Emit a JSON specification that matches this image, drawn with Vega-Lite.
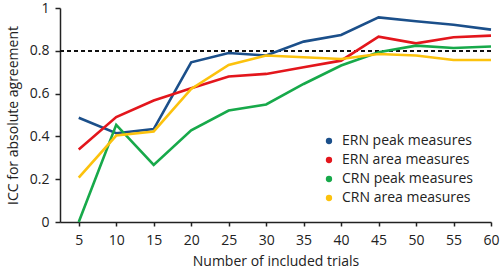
{
  "$schema": "https://vega.github.io/schema/vega-lite/v6.json",
  "width": 431,
  "height": 214,
  "autosize": {"type": "none"},
  "padding": {"left": 60, "top": 8, "right": 9, "bottom": 49},
  "background": "white",
  "config": {
    "view": {"stroke": null},
    "font": "Open Sans",
    "axis": {"grid": false, "domainColor": "#222", "tickColor": "#222", "labelColor": "#222", "titleColor": "#222", "labelFontSize": 14, "titleFontSize": 14, "titleFontWeight": "normal", "domainWidth": 1.5, "tickWidth": 1.5}
  },
  "data": {
    "values": [
      {"n": 5, "s": "ERN peak measures", "v": 0.487},
      {"n": 10, "s": "ERN peak measures", "v": 0.415},
      {"n": 15, "s": "ERN peak measures", "v": 0.434},
      {"n": 20, "s": "ERN peak measures", "v": 0.746},
      {"n": 25, "s": "ERN peak measures", "v": 0.79},
      {"n": 30, "s": "ERN peak measures", "v": 0.778},
      {"n": 35, "s": "ERN peak measures", "v": 0.843},
      {"n": 40, "s": "ERN peak measures", "v": 0.874},
      {"n": 45, "s": "ERN peak measures", "v": 0.956},
      {"n": 50, "s": "ERN peak measures", "v": 0.938},
      {"n": 55, "s": "ERN peak measures", "v": 0.922},
      {"n": 60, "s": "ERN peak measures", "v": 0.899},
      {"n": 5, "s": "ERN area measures", "v": 0.339},
      {"n": 10, "s": "ERN area measures", "v": 0.49},
      {"n": 15, "s": "ERN area measures", "v": 0.568},
      {"n": 20, "s": "ERN area measures", "v": 0.625},
      {"n": 25, "s": "ERN area measures", "v": 0.68},
      {"n": 30, "s": "ERN area measures", "v": 0.692},
      {"n": 35, "s": "ERN area measures", "v": 0.723},
      {"n": 40, "s": "ERN area measures", "v": 0.754},
      {"n": 45, "s": "ERN area measures", "v": 0.866},
      {"n": 50, "s": "ERN area measures", "v": 0.835},
      {"n": 55, "s": "ERN area measures", "v": 0.863},
      {"n": 60, "s": "ERN area measures", "v": 0.871},
      {"n": 5, "s": "CRN peak measures", "v": 0.0},
      {"n": 10, "s": "CRN peak measures", "v": 0.454},
      {"n": 15, "s": "CRN peak measures", "v": 0.267},
      {"n": 20, "s": "CRN peak measures", "v": 0.428},
      {"n": 25, "s": "CRN peak measures", "v": 0.521},
      {"n": 30, "s": "CRN peak measures", "v": 0.549},
      {"n": 35, "s": "CRN peak measures", "v": 0.645},
      {"n": 40, "s": "CRN peak measures", "v": 0.731},
      {"n": 45, "s": "CRN peak measures", "v": 0.793},
      {"n": 50, "s": "CRN peak measures", "v": 0.824},
      {"n": 55, "s": "CRN peak measures", "v": 0.813},
      {"n": 60, "s": "CRN peak measures", "v": 0.82},
      {"n": 5, "s": "CRN area measures", "v": 0.207},
      {"n": 10, "s": "CRN area measures", "v": 0.404},
      {"n": 15, "s": "CRN area measures", "v": 0.423},
      {"n": 20, "s": "CRN area measures", "v": 0.622},
      {"n": 25, "s": "CRN area measures", "v": 0.734},
      {"n": 30, "s": "CRN area measures", "v": 0.778},
      {"n": 35, "s": "CRN area measures", "v": 0.77},
      {"n": 40, "s": "CRN area measures", "v": 0.762},
      {"n": 45, "s": "CRN area measures", "v": 0.785},
      {"n": 50, "s": "CRN area measures", "v": 0.778},
      {"n": 55, "s": "CRN area measures", "v": 0.757},
      {"n": 60, "s": "CRN area measures", "v": 0.757}
    ]
  },
  "layer": [
    {
      "mark": {"type": "rule", "strokeDash": [4, 3], "strokeWidth": 1.2, "color": "#111"},
      "encoding": {"y": {"datum": 0.8, "type": "quantitative"}}
    },
    {
      "mark": {"type": "line", "strokeWidth": 2.6},
      "encoding": {
        "x": {
          "field": "n", "type": "quantitative",
          "scale": {"domain": [2.5, 60], "nice": false, "zero": false},
          "axis": {"values": [5, 10, 15, 20, 25, 30, 35, 40, 45, 50, 55, 60], "tickSize": 4, "labelPadding": 7, "title": "Number of included trials", "titlePadding": 7, "labelFlush": false}
        },
        "y": {
          "field": "v", "type": "quantitative",
          "scale": {"domain": [0, 1], "nice": false},
          "axis": {"values": [0, 0.2, 0.4, 0.6, 0.8, 1], "format": "~g", "tickSize": 5, "labelPadding": 6, "title": "ICC for absolute agreement", "titlePadding": 9, "labelFlush": false}
        },
        "color": {
          "field": "s", "type": "nominal",
          "sort": ["ERN peak measures", "ERN area measures", "CRN peak measures", "CRN area measures"],
          "scale": {"domain": ["ERN peak measures", "ERN area measures", "CRN peak measures", "CRN area measures"], "range": ["#1b4f8a", "#e3161c", "#17a94a", "#fcc20d"]},
          "legend": {
            "title": null, "orient": "none", "legendX": 262, "legendY": 126,
            "symbolType": "circle", "symbolSize": 40,
            "labelFontSize": 14, "labelColor": "#222", "rowPadding": 5, "labelOffset": 6,
            "encode": {"symbols": {"update": {"fill": {"scale": "color", "field": "value"}, "fillOpacity": {"value": 1}, "strokeWidth": {"value": 0}}}}
          }
        }
      }
    }
  ]
}
